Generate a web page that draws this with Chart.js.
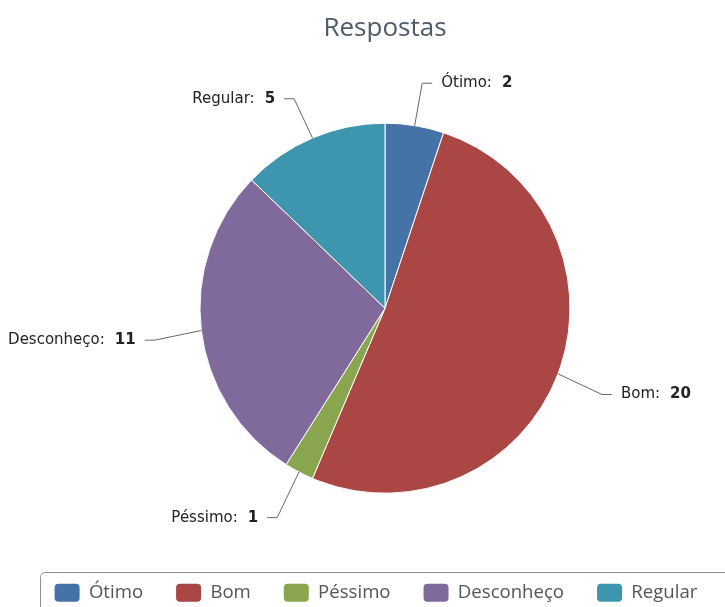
<!DOCTYPE html>
<html lang="pt">
<head>
<meta charset="utf-8">
<title>Respostas</title>
<script src="https://cdn.jsdelivr.net/npm/chart.js@4.4.0/dist/chart.umd.min.js"></script>
<style>
  html, body { margin: 0; padding: 0; background: #fff; overflow: hidden; }
  #wrap { width: 770px; height: 612px; }
</style>
</head>
<body>
<div id="wrap"><canvas id="respostas" width="770" height="612"></canvas></div>
<script>
const categorias = ['Ótimo', 'Bom', 'Péssimo', 'Desconheço', 'Regular'];
const respostas = [2, 20, 1, 11, 5];
const cores = ['#4572A7', '#AA4643', '#89A54E', '#80699B', '#3D96AE'];

const FONTE_ROTULO = '"DejaVu Sans", Verdana, sans-serif';

// rótulos "Nome: valor" fora da pizza, ligados à fatia por uma linha
const rotulosFatia = {
  id: 'rotulosFatia',
  afterDatasetsDraw(chart) {
    const ctx = chart.ctx;
    const meta = chart.getDatasetMeta(0);
    const distancia = 47;
    const desvioY = 4;
    ctx.save();
    meta.data.forEach((arc, i) => {
      const { x, y, startAngle, endAngle, outerRadius } =
        arc.getProps(['x', 'y', 'startAngle', 'endAngle', 'outerRadius'], true);
      const meio = (startAngle + endAngle) / 2;
      const cos = Math.cos(meio);
      const sin = Math.sin(meio);
      const borda = { x: x + cos * outerRadius, y: y + sin * outerRadius };
      const dobra = {
        x: x + cos * (outerRadius + distancia),
        y: y + sin * (outerRadius + distancia) + desvioY
      };
      const lado = cos >= 0 ? 1 : -1;
      const fim = dobra.x + lado * 10;

      ctx.strokeStyle = '#666';
      ctx.lineWidth = 1;
      ctx.beginPath();
      ctx.moveTo(borda.x, borda.y);
      ctx.lineTo(dobra.x, dobra.y);
      ctx.lineTo(fim, dobra.y);
      ctx.stroke();

      const nome = categorias[i] + ':';
      const valor = String(respostas[i]);
      ctx.font = '15px ' + FONTE_ROTULO;
      const wNome = ctx.measureText(nome).width;
      ctx.font = 'bold 15px ' + FONTE_ROTULO;
      const wValor = ctx.measureText(valor).width;
      const gap = 10;
      const tx = lado > 0 ? fim + 9 : fim - 9 - (wNome + gap + wValor);

      ctx.textBaseline = 'middle';
      ctx.textAlign = 'left';
      ctx.fillStyle = '#222';
      ctx.font = '15px ' + FONTE_ROTULO;
      ctx.fillText(nome, tx, dobra.y);
      ctx.font = 'bold 15px ' + FONTE_ROTULO;
      ctx.fillText(valor, tx + wNome + gap, dobra.y);
    });
    ctx.restore();
  }
};

// caixa arredondada em volta da legenda
const molduraLegenda = {
  id: 'molduraLegenda',
  afterLayout(chart) {
    chart.legend.left -= 9;
    chart.legend.right -= 9;
  },
  afterDraw(chart) {
    const boxes = chart.legend.legendHitBoxes;
    if (!boxes || !boxes.length) return;
    const primeiro = boxes[0];
    const ultimo = boxes[boxes.length - 1];
    const esq = Math.round(primeiro.left - 15) + 0.5;
    const dir = Math.round(ultimo.left + ultimo.width + 34) + 0.5;
    const centro = primeiro.top + 9.5;
    const topo = Math.round(centro - 21) + 0.5;
    const ctx = chart.ctx;
    ctx.save();
    ctx.strokeStyle = '#909090';
    ctx.lineWidth = 1;
    ctx.beginPath();
    ctx.roundRect(esq, topo, dir - esq, 42, 5);
    ctx.stroke();
    ctx.restore();
  }
};

new Chart(document.getElementById('respostas'), {
  type: 'pie',
  data: {
    labels: categorias,
    datasets: [{
      data: respostas,
      backgroundColor: cores,
      borderColor: '#ffffff',
      borderWidth: 1,
      radius: 185
    }]
  },
  options: {
    responsive: false,
    animation: false,
    events: [],
    layout: { padding: 0 },
    plugins: {
      title: {
        display: true,
        text: 'Respostas',
        color: '#4f5b66',
        font: { family: '"Open Sans", sans-serif', size: 26, weight: 'normal' },
        padding: { top: 13.4, bottom: 21.4 }
      },
      legend: {
        position: 'bottom',
        labels: {
          boxWidth: 25,
          boxHeight: 18,
          padding: 33,
          color: '#555',
          font: { family: '"Open Sans", sans-serif', size: 18.6 },
          generateLabels(chart) {
            return categorias.map((c, i) => ({
              text: c,
              fillStyle: cores[i],
              strokeStyle: cores[i],
              lineWidth: 0,
              borderRadius: 4,
              fontColor: '#555',
              hidden: !chart.getDataVisibility(i),
              index: i
            }));
          }
        }
      },
      tooltip: { enabled: false }
    }
  },
  plugins: [rotulosFatia, molduraLegenda]
});
</script>
</body>
</html>
